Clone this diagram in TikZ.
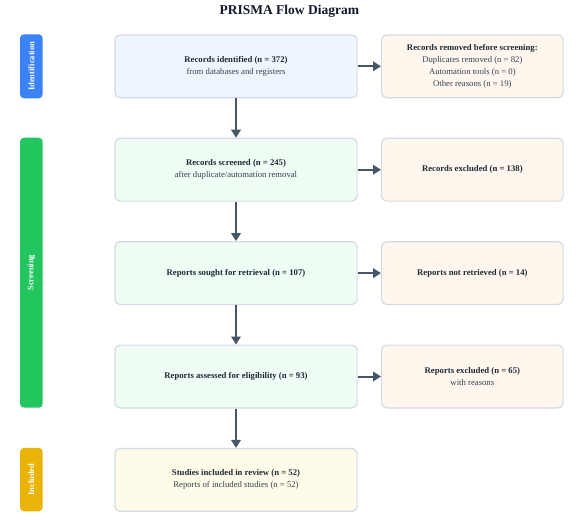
\documentclass[tikz,border=0pt]{standalone}
\usepackage{fontspec}
\setmainfont{Liberation Serif}
\usetikzlibrary{arrows.meta}
\definecolor{bordc}{HTML}{D3DBE6}
\definecolor{arrc}{HTML}{475569}
\definecolor{fblue}{HTML}{EFF6FF}
\definecolor{fgreen}{HTML}{F0FDF4}
\definecolor{forange}{HTML}{FFF7ED}
\definecolor{fyellow}{HTML}{FEFCE8}
\definecolor{barblue}{HTML}{3B82F6}
\definecolor{bargreen}{HTML}{22C55E}
\definecolor{baramber}{HTML}{EAB308}
\definecolor{txtdark}{HTML}{1F2937}
\definecolor{txtgray}{HTML}{374151}
\definecolor{titlec}{HTML}{111827}
\tikzset{
  boxbase/.style={draw=bordc, line width=1.2pt, rounded corners=5pt, align=center,
    inner sep=0pt, font=\fontsize{8.7}{12}\selectfont, text=txtgray},
  mainbox/.style={boxbase, minimum width=242.2pt, minimum height=62.8pt},
  sidebox/.style={boxbase, minimum width=181.5pt, minimum height=62.8pt, fill=forange},
  phasebar/.style={rounded corners=4pt, minimum width=22.7pt, inner sep=0pt,
    text=white, font=\fontsize{8.5}{10}\selectfont\bfseries},
  flowarrow/.style={draw=arrc, line width=2pt, -{Triangle[width=9.5pt,length=8pt]}, shorten >=0pt}
}
\newcommand{\hd}[1]{\textcolor{txtdark}{\textbf{#1}}}
\begin{document}
\begin{tikzpicture}[x=1pt,y=-1pt]
\useasboundingbox[fill=white] (0,0) rectangle (579,520);
\node[font=\fontsize{13.5}{16}\selectfont\bfseries, text=titlec] (title) at (289.3,11) {PRISMA Flow Diagram};

% phase bars
\node[phasebar, fill=barblue, minimum height=64pt] (pid) at (31.35,66.3) {};
\node[rotate=90, text=white, font=\fontsize{8.5}{10}\selectfont\bfseries] (lid) at (pid.center) {Identification};
\node[phasebar, fill=bargreen, minimum height=270pt] (psc) at (31.35,272.7) {};
\node[rotate=90, text=white, font=\fontsize{8.5}{10}\selectfont\bfseries] (lsc) at (psc.center) {Screening};
\node[phasebar, fill=baramber, minimum height=63.5pt] (pin) at (31.35,479.6) {};
\node[rotate=90, text=white, font=\fontsize{8.5}{10}\selectfont\bfseries] (lin) at (pin.center) {Included};

% main column
\node[mainbox, fill=fblue] (m1) at (236,66.3) {\hd{Records identified (n = 372)}\\from databases and registers};
\node[mainbox, fill=fgreen] (m2) at (236,169.7) {\hd{Records screened (n = 245)}\\after duplicate/automation removal};
\node[mainbox, fill=fgreen] (m3) at (236,273.1) {\hd{Reports sought for retrieval (n = 107)}};
\node[mainbox, fill=fgreen] (m4) at (236,376.5) {\hd{Reports assessed for eligibility (n = 93)}};
\node[mainbox, fill=fyellow] (m5) at (236,479.9) {\hd{Studies included in review (n = 52)}\\Reports of included studies (n = 52)};

% side column
\node[sidebox] (s1) at (472.35,66.3) {\hd{Records removed before screening:}\\Duplicates removed (n = 82)\\Automation tools (n = 0)\\Other reasons (n = 19)};
\node[sidebox] (s2) at (472.35,169.7) {\hd{Records excluded (n = 138)}};
\node[sidebox] (s3) at (472.35,273.1) {\hd{Reports not retrieved (n = 14)}};
\node[sidebox] (s4) at (472.35,376.5) {\hd{Reports excluded (n = 65)}\\with reasons};

% connectors
\draw[flowarrow] (m1.south) -- (m2.north);
\draw[flowarrow] (m2.south) -- (m3.north);
\draw[flowarrow] (m3.south) -- (m4.north);
\draw[flowarrow] (m4.south) -- (m5.north);
\draw[flowarrow] (m1.east) -- (s1.west);
\draw[flowarrow] (m2.east) -- (s2.west);
\draw[flowarrow] (m3.east) -- (s3.west);
\draw[flowarrow] (m4.east) -- (s4.west);
\end{tikzpicture}
\end{document}
